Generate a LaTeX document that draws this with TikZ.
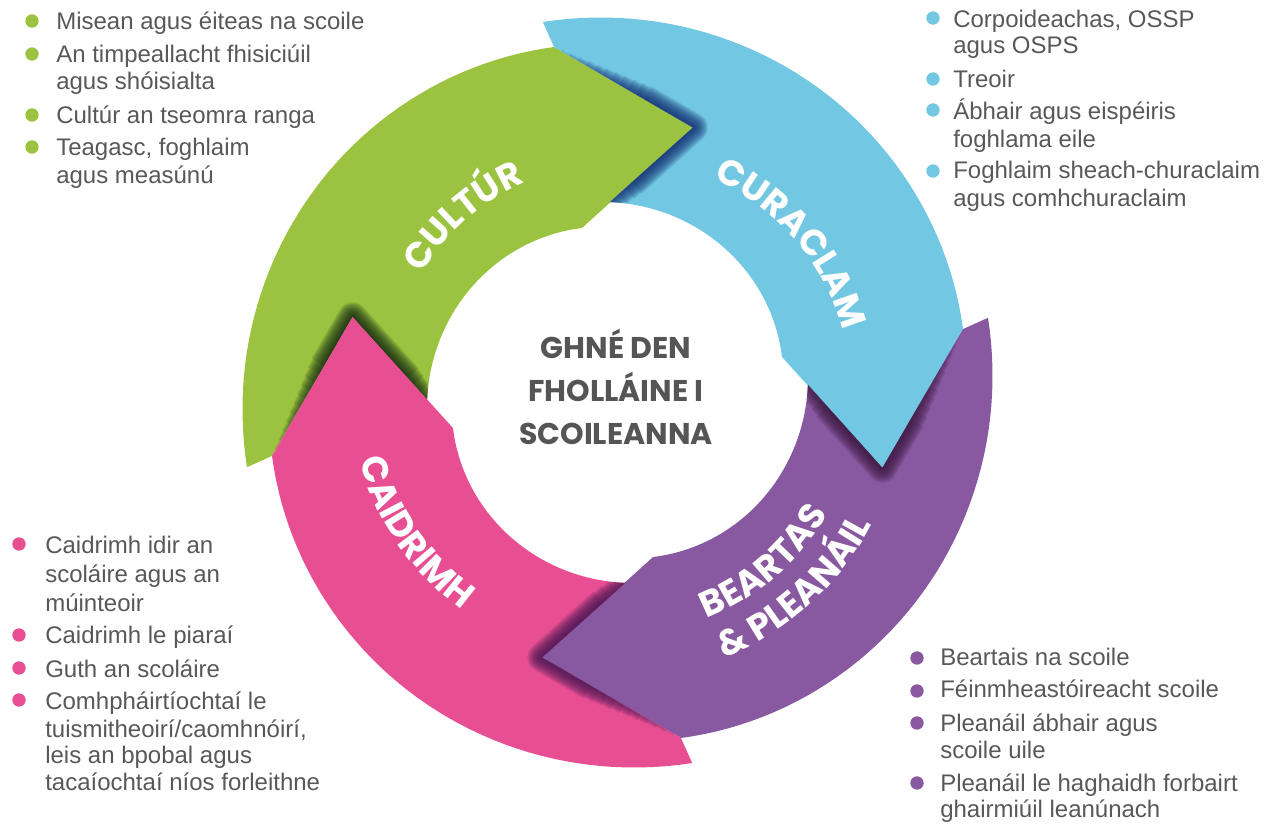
\documentclass[tikz,border=0pt]{standalone}
\usepackage{fontspec}
\usetikzlibrary{decorations.text,calc}
\newfontfamily\itemfont{Liberation Sans}
\newfontfamily\labelfont{Poppins}

\definecolor{cultur}{RGB}{155,195,63}
\definecolor{curaclam}{RGB}{114,199,227}
\definecolor{beartas}{RGB}{136,88,160}
\definecolor{caidrimh}{RGB}{232,79,147}
\definecolor{culturshade}{RGB}{22,42,20}
\definecolor{curaclamshade}{RGB}{18,44,112}
\definecolor{beartasshade}{RGB}{58,24,62}
\definecolor{caidrimhshade}{RGB}{70,22,82}
\definecolor{txtgray}{RGB}{88,88,90}
\definecolor{hubgray}{RGB}{85,85,85}

\newcommand{\seglabel}{\labelfont\bfseries\fontsize{27}{27}\selectfont}

% outline of one ring piece: spiral outer edge, arrow head, spiral inner edge, notch
\newcommand{\segpath}{(tailout) -- plot[domain=168.6:259.6, samples=48] ({\x}:{378-0.2934*(\x-168.6)})
  -- (headtip) -- (headin) -- plot[domain=257.8:177.7, samples=48] ({\x}:{168.3+0.278*(257.8-\x)})
  -- (notchtip) -- (notchout) -- cycle}

\newcommand{\ringsegment}[3]{%
  \begin{scope}[shift={(617.5,392.5)}, rotate=#1]
    \coordinate (tailout)  at (168.6:378);
    \coordinate (headtip)  at (285.9:275.5);
    \coordinate (headin)   at (257.8:168.3);
    \coordinate (notchtip) at (195.9:275.5);
    \coordinate (notchout) at (169.6:351.3);
    \coordinate (notchin)  at (167.8:168.3);
    \fill[#2] \segpath;
    \begin{scope}
      \clip \segpath;
      % shadow under the head of the piece before, widest at the notch
      \foreach \w [evaluate=\w as \s using 0.05+0.6*(\w-2)/20] in {22,20,...,2}
        \draw[#3, line width=\w pt, opacity=0.15, line join=round]
          ($(notchout)!\s!(notchtip)$) -- (notchtip) -- ($(notchtip)!1.2-\s!(notchin)$);
    \end{scope}
  \end{scope}}

\tikzset{
  item/.style={anchor=base west, inner sep=0pt, text=txtgray, font=\itemfont\fontsize{18}{21}\selectfont},
  dot/.style={circle, inner sep=0pt, minimum size=10pt},
  hub/.style={align=center, text=hubgray, font=\labelfont\bfseries\fontsize{22.5}{32}\selectfont},
  arclabel/.style={decorate, decoration={text along path, text color=white, text align=center, text={|\seglabel|#1}}}
}

\begin{document}
\begin{tikzpicture}[x=0.75pt,y=0.75pt,yscale=-1,xscale=1]
\useasboundingbox (0,0) rectangle (1279,825);

% ring
\ringsegment{0}{cultur}{culturshade}
\ringsegment{90}{curaclam}{curaclamshade}
\ringsegment{180}{beartas}{beartasshade}
\ringsegment{270}{caidrimh}{caidrimhshade}

% labels on the ring
\begin{scope}[shift={(617.5,392.5)}]
  \path[arclabel=CULTÚR] (193.8:229.5) arc[start angle=193.8, end angle=263.8, radius=229.5];
  \path[arclabel=CURACLAM] (284.4:234) arc[start angle=284.4, end angle=354.4, radius=234];
  \path[arclabel=BEARTAS] (84.2:243) arc[start angle=84.2, end angle=14.2, radius=243];
  \path[arclabel={{\&} PLEANÁIL}] (82.7:286.5) arc[start angle=82.7, end angle=12.7, radius=286.5];
  \path[arclabel=CAIDRIMH] (180.4:267) arc[start angle=180.4, end angle=110.4, radius=267];
\end{scope}

\node[hub] (hub) at (616,387) {GHNÉ DEN\\FHOLLÁINE I\\SCOILEANNA};

% cultur list
\node[dot, fill=cultur] (gb1) at (32,21) {};
\node[dot, fill=cultur] (gb2) at (32,54) {};
\node[dot, fill=cultur] (gb3) at (32,115) {};
\node[dot, fill=cultur] (gb4) at (32,147) {};
\node[item] (g1)  at (56,29)  {Misean agus éiteas na scoile};
\node[item] (g2a) at (56,62)  {An timpeallacht fhisiciúil};
\node[item] (g2b) at (56,89)  {agus shóisialta};
\node[item] (g3)  at (56,123) {Cultúr an tseomra ranga};
\node[item] (g4a) at (56,155) {Teagasc, foghlaim};
\node[item] (g4b) at (56,183) {agus measúnú};

% curaclam list
\node[dot, fill=curaclam] (cb1) at (933,18) {};
\node[dot, fill=curaclam] (cb2) at (933,79) {};
\node[dot, fill=curaclam] (cb3) at (933,110) {};
\node[dot, fill=curaclam] (cb4) at (933,171) {};
\node[item] (c1a) at (953,27)  {Corpoideachas, OSSP};
\node[item] (c1b) at (953,53)  {agus OSPS};
\node[item] (c2)  at (953,87)  {Treoir};
\node[item] (c3a) at (953,119) {Ábhair agus eispéiris};
\node[item] (c3b) at (953,147) {foghlama eile};
\node[item] (c4a) at (953,178) {Foghlaim sheach-churaclaim};
\node[item] (c4b) at (953,206) {agus comhchuraclaim};

% caidrimh list
\node[dot, fill=caidrimh] (kb1) at (19,544) {};
\node[dot, fill=caidrimh] (kb2) at (19,635) {};
\node[dot, fill=caidrimh] (kb3) at (19,668) {};
\node[dot, fill=caidrimh] (kb4) at (19,700) {};
\node[item] (k1a) at (45,553) {Caidrimh idir an};
\node[item] (k1b) at (45,582) {scoláire agus an};
\node[item] (k1c) at (45,611) {múinteoir};
\node[item] (k2)  at (45,643) {Caidrimh le piaraí};
\node[item] (k3)  at (45,677) {Guth an scoláire};
\node[item] (k4a) at (45,709) {Comhpháirtíochtaí le};
\node[item] (k4b) at (45,737) {tuismitheoirí/caomhnóirí,};
\node[item] (k4c) at (45,763) {leis an bpobal agus};
\node[item] (k4d) at (45,790) {tacaíochtaí níos forleithne};

% beartas list
\node[dot, fill=beartas] (bb1) at (917,658) {};
\node[dot, fill=beartas] (bb2) at (917,691) {};
\node[dot, fill=beartas] (bb3) at (917,723) {};
\node[dot, fill=beartas] (bb4) at (917,783) {};
\node[item] (b1)  at (940,665) {Beartais na scoile};
\node[item] (b2)  at (940,697) {Féinmheastóireacht scoile};
\node[item] (b3a) at (940,731) {Pleanáil ábhair agus};
\node[item] (b3b) at (940,758) {scoile uile};
\node[item] (b4a) at (940,791) {Pleanáil le haghaidh forbairt};
\node[item] (b4b) at (940,817) {ghairmiúil leanúnach};
\end{tikzpicture}
\end{document}
